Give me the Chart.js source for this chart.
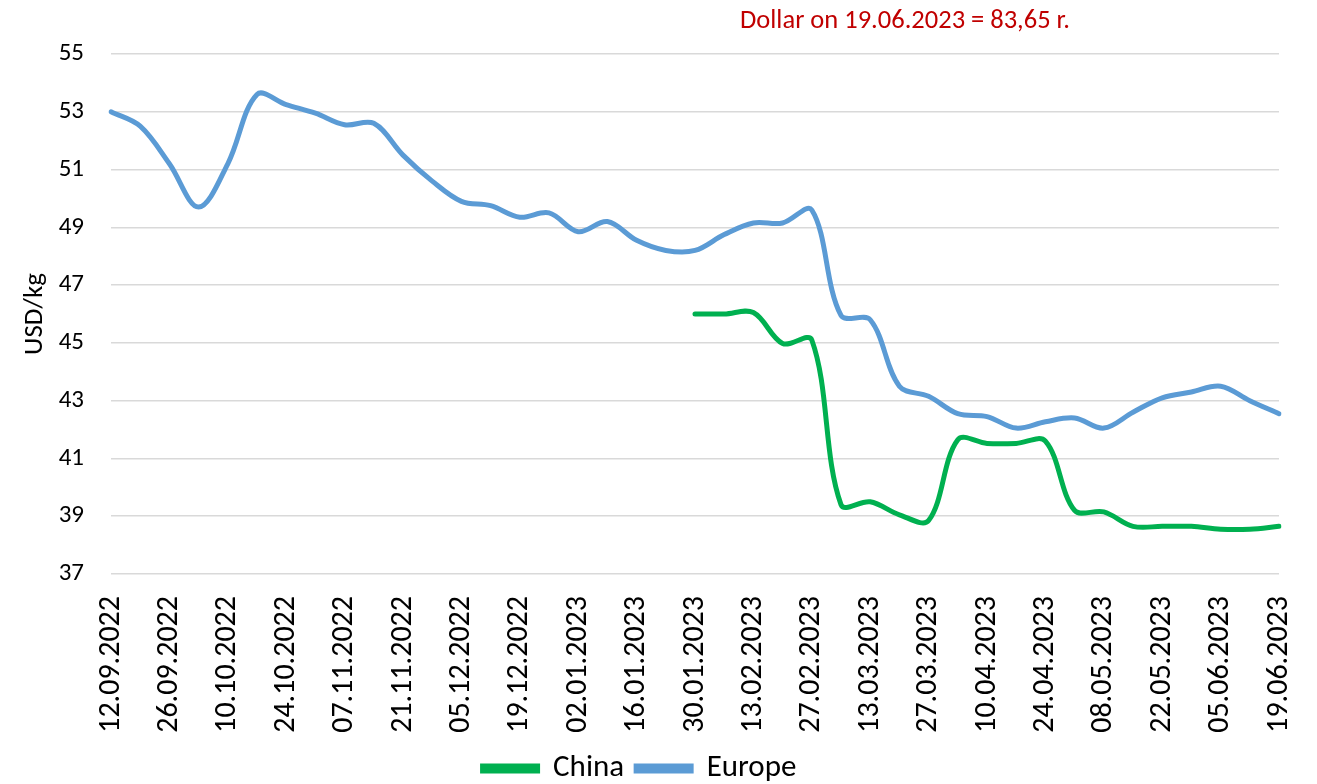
<!DOCTYPE html>
<html>
<head>
<meta charset="utf-8">
<script src="https://cdn.jsdelivr.net/npm/chart.js@4/dist/chart.umd.min.js"></script>
<style>
  html, body { margin: 0; padding: 0; background: #fff; }
  #wrap { position: relative; width: 1317px; height: 784px; }
  #note {
    position: absolute; left: 740px; top: 3px;
    font: 26.5px "Carlito", "Open Sans", sans-serif; color: #C00000;
    white-space: nowrap;
  }
</style>
</head>
<body>
<div id="wrap">
  <canvas id="chart" width="1317" height="784"></canvas>
  <div id="note">Dollar on 19.06.2023 = 83,65 r.</div>
</div>
<script>
  const weeks = [
    "12.09.2022", "19.09.2022", "26.09.2022", "03.10.2022", "10.10.2022", "17.10.2022",
    "24.10.2022", "31.10.2022", "07.11.2022", "14.11.2022", "21.11.2022", "28.11.2022",
    "05.12.2022", "12.12.2022", "19.12.2022", "26.12.2022", "02.01.2023", "09.01.2023",
    "16.01.2023", "23.01.2023", "30.01.2023", "06.02.2023", "13.02.2023", "20.02.2023",
    "27.02.2023", "06.03.2023", "13.03.2023", "20.03.2023", "27.03.2023", "03.04.2023",
    "10.04.2023", "17.04.2023", "24.04.2023", "01.05.2023", "08.05.2023", "15.05.2023",
    "22.05.2023", "29.05.2023", "05.06.2023", "12.06.2023", "19.06.2023"
  ];

  // USD/kg, weekly
  const europe = [
    53.0, 52.5, 51.2, 49.7, 51.2, 53.6, 53.25, 52.95, 52.55, 52.6,
    51.5, 50.6, 49.9, 49.75, 49.35, 49.5, 48.85, 49.2, 48.55, 48.2,
    48.2, 48.75, 49.15, 49.15, 49.6, 45.95, 45.8, 43.5, 43.15, 42.55,
    42.45, 42.05, 42.27, 42.4, 42.05, 42.6, 43.1, 43.3, 43.5, 43.0,
    42.55
  ];
  const china = [
    null, null, null, null, null, null, null, null, null, null,
    null, null, null, null, null, null, null, null, null, null,
    46.0, 46.0, 46.05, 44.98, 45.1, 39.4, 39.5, 39.05, 38.85, 41.65,
    41.52, 41.52, 41.6, 39.2, 39.15, 38.65, 38.65, 38.65, 38.55, 38.55,
    38.65
  ];

  const yMin = 37, yMax = 55, yStep = 2;
  const FONT = '"Carlito", "Open Sans", sans-serif';

  new Chart(document.getElementById("chart"), {
    type: "line",
    data: {
      labels: weeks,
      datasets: [
        {
          label: "China",
          data: china,
          borderColor: "#00B050",
          backgroundColor: "#00B050",
          borderWidth: 5,
          pointRadius: 0,
          tension: 0.35,
          borderCapStyle: "round"
        },
        {
          label: "Europe",
          data: europe,
          borderColor: "#5B9BD5",
          backgroundColor: "#5B9BD5",
          borderWidth: 5,
          pointRadius: 0,
          tension: 0.35,
          borderCapStyle: "round"
        }
      ]
    },
    options: {
      responsive: false,
      animation: false,
      layout: { padding: { top: 54, right: 38, left: 0, bottom: -10 } },
      plugins: {
        tooltip: { enabled: false },
        legend: {
          position: "bottom",
          labels: {
            boxWidth: 55,
            boxHeight: 5,
            padding: 12,
            color: "#000",
            font: { family: FONT, size: 31 }
          }
        }
      },
      scales: {
        x: {
          grid: { display: false, drawTicks: false },
          border: { display: false },
          ticks: {
            autoSkip: false,
            minRotation: 90,
            maxRotation: 90,
            padding: 22,
            color: "#000",
            font: { family: FONT, size: 30 },
            callback: function (v, i) { return i % 2 === 0 ? weeks[i] : ""; }
          },
          afterFit: function (s) {
            s.height = 167;
            s.paddingLeft = 0;
            s.paddingRight = 0;
          }
        },
        y: {
          min: yMin,
          max: yMax,
          grid: { color: "#D9D9D9", lineWidth: 1.5, drawTicks: false },
          border: { display: false },
          ticks: {
            stepSize: yStep,
            padding: 27,
            color: "#000",
            font: { family: FONT, size: 25 }
          },
          title: {
            display: true,
            text: "USD/kg",
            color: "#000",
            padding: { top: 19, bottom: 0 },
            font: { family: FONT, size: 27 }
          },
          afterFit: function (s) { s.width = 111; }
        }
      }
    }
  });
</script>
</body>
</html>
